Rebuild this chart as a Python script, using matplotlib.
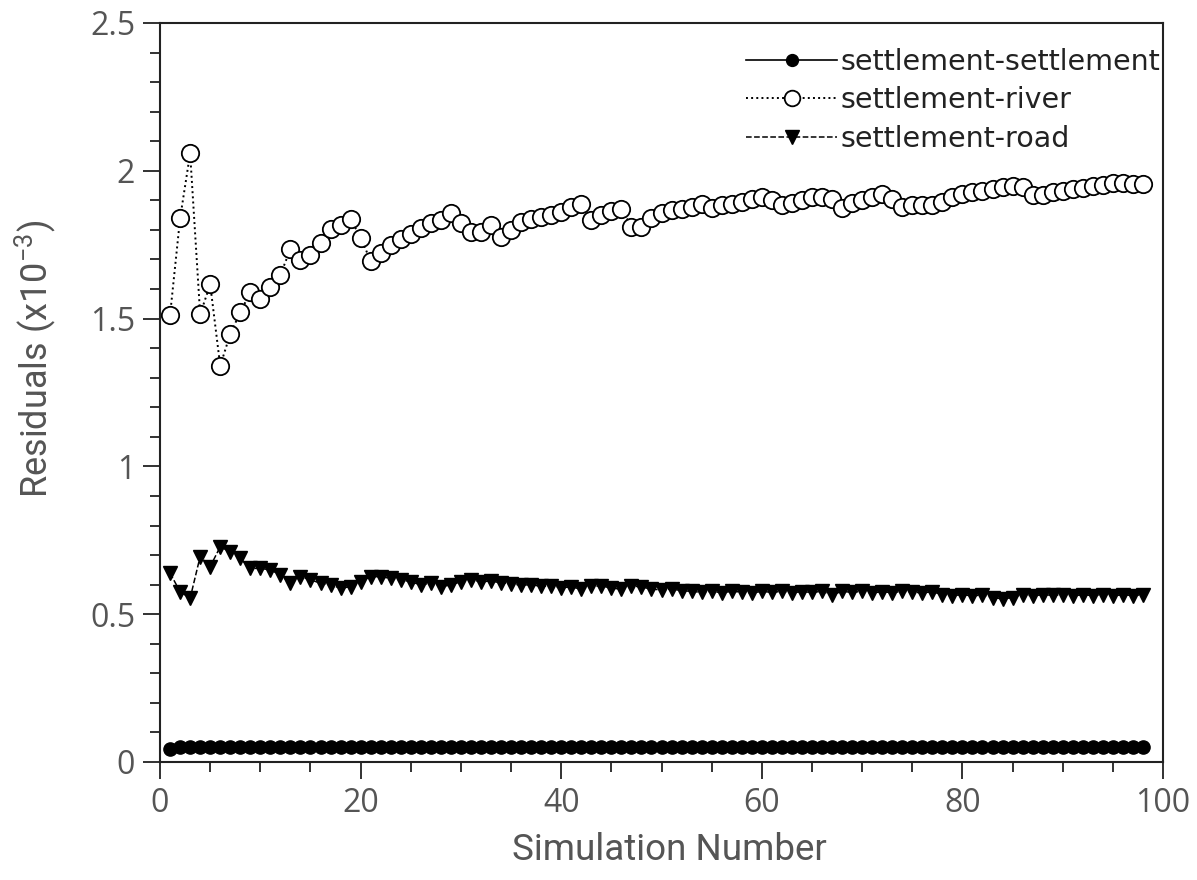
import numpy as np
import matplotlib
matplotlib.use("Agg")
import matplotlib.pyplot as plt
from matplotlib.ticker import MultipleLocator, FormatStrFormatter

# simulation numbers 1..98
sim_number = list(range(1, 99))

# residuals (x10^-3)
settlement_settlement = [0.044] + [0.051] * 97

settlement_river = [
    1.512, 1.839, 2.059, 1.514, 1.616, 1.340, 1.448, 1.521, 1.589, 1.565,
    1.608, 1.648, 1.735, 1.698, 1.715, 1.757, 1.802, 1.817, 1.836, 1.774,
    1.695, 1.723, 1.749, 1.768, 1.785, 1.805, 1.822, 1.835, 1.856, 1.822,
    1.794, 1.794, 1.815, 1.775, 1.798, 1.826, 1.838, 1.845, 1.852, 1.862,
    1.876, 1.886, 1.834, 1.850, 1.864, 1.872, 1.811, 1.811, 1.840, 1.856,
    1.866, 1.872, 1.878, 1.889, 1.875, 1.883, 1.889, 1.895, 1.905, 1.912,
    1.900, 1.884, 1.890, 1.900, 1.910, 1.912, 1.905, 1.875, 1.890, 1.900,
    1.912, 1.922, 1.905, 1.879, 1.884, 1.884, 1.885, 1.893, 1.912, 1.922,
    1.928, 1.933, 1.938, 1.944, 1.950, 1.945, 1.918, 1.918, 1.927, 1.933,
    1.938, 1.943, 1.948, 1.953, 1.958, 1.958, 1.955, 1.955,
]

settlement_road = [
    0.639, 0.576, 0.554, 0.695, 0.661, 0.728, 0.711, 0.689, 0.655, 0.655,
    0.650, 0.633, 0.605, 0.627, 0.616, 0.605, 0.599, 0.588, 0.593, 0.610,
    0.627, 0.627, 0.621, 0.616, 0.610, 0.599, 0.605, 0.593, 0.599, 0.610,
    0.616, 0.610, 0.612, 0.606, 0.603, 0.598, 0.600, 0.594, 0.596, 0.590,
    0.592, 0.585, 0.594, 0.596, 0.588, 0.585, 0.596, 0.592, 0.585, 0.582,
    0.585, 0.580, 0.577, 0.574, 0.577, 0.573, 0.577, 0.575, 0.572, 0.577,
    0.574, 0.577, 0.573, 0.576, 0.574, 0.577, 0.566, 0.577, 0.574, 0.577,
    0.572, 0.576, 0.573, 0.577, 0.575, 0.572, 0.576, 0.566, 0.563, 0.566,
    0.562, 0.565, 0.556, 0.552, 0.556, 0.566, 0.562, 0.566, 0.564, 0.566,
    0.562, 0.566, 0.563, 0.566, 0.562, 0.566, 0.563, 0.566,
]

labels = ["settlement-settlement", "settlement-river", "settlement-road"]

# superscripts in the regular font
plt.rcParams["mathtext.default"] = "regular"

fig = plt.figure(figsize=(11.97, 8.80), dpi=100)
ax = fig.add_axes([0.1337, 0.1341, 0.8379, 0.8398])

# draw the three series
ax.plot(sim_number, settlement_settlement, color="black", linestyle="-", linewidth=1.2,
        marker="o", markersize=9.5, markerfacecolor="black", markeredgecolor="black",
        label=labels[0])
ax.plot(sim_number, settlement_river, color="black", linestyle=":", linewidth=1.4,
        marker="o", markersize=12.5, markerfacecolor="white", markeredgecolor="black",
        markeredgewidth=1.3, label=labels[1])
ax.plot(sim_number, settlement_road, color="black", linestyle="--", linewidth=1.1,
        marker="v", markersize=10.5, markerfacecolor="black", markeredgecolor="black",
        label=labels[2])

# axes limits and ticks
ax.set_xlim(0, 100)
ax.set_ylim(0, 2.5)
ax.xaxis.set_major_locator(MultipleLocator(20))
ax.xaxis.set_minor_locator(MultipleLocator(5))
ax.yaxis.set_major_locator(MultipleLocator(0.5))
ax.yaxis.set_minor_locator(MultipleLocator(0.1))
ax.yaxis.set_major_formatter(FormatStrFormatter("%g"))

for side in ax.spines.values():
    side.set_linewidth(1.5)
    side.set_color("#222222")

ax.tick_params(which="major", direction="out", length=12, width=1.3, color="#222222",
               labelsize=23, labelcolor="#555555", pad=6)
ax.tick_params(which="minor", direction="out", length=7, width=1.3, color="#222222")
ax.tick_params(top=False, right=False, which="both")
for lbl in ax.get_xticklabels() + ax.get_yticklabels():
    lbl.set_family("Open Sans")

# axis labels, placed where the original has them
ax.set_xlabel("Simulation Number", fontsize=26.5, color="#555555", family="Roboto")
ax.xaxis.label.set_va("center")
ax.xaxis.set_label_coords(0.5075, -0.119)
ax.set_ylabel("Residuals (x10$^{-3}$)", fontsize=26, color="#555555", family="Roboto")
ax.yaxis.label.set_va("center")
ax.yaxis.set_label_coords(-0.1246, 0.545)

# legend without frame in the top right corner
leg = ax.legend(loc="upper right", bbox_to_anchor=(0.997, 0.966), frameon=False,
                handlelength=3.2, handletextpad=0.1, labelspacing=0.36,
                borderpad=0.0, borderaxespad=0.0, markerscale=0.9,
                prop={"family": "DejaVu Sans", "size": 20.5})
for txt in leg.get_texts():
    txt.set_color("#222222")

fig.savefig("out.png", dpi=100)
